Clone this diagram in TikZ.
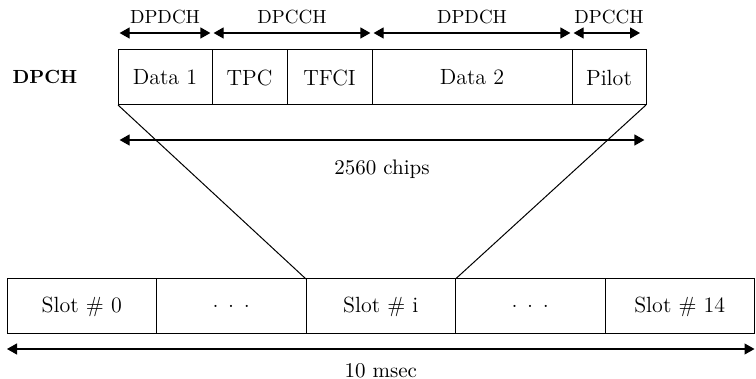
\documentclass[tikz,border=0pt]{standalone}
\usepackage{tikz}
\usetikzlibrary{arrows.meta,positioning}

\begin{document}
\begin{tikzpicture}[
  x=0.5pt, y=-0.5pt,
  cell/.style={draw, line width=0.5pt, outer sep=0pt, inner sep=0pt,
               minimum height=27.5pt, font=\fontsize{11}{13}\selectfont},
  slot/.style={cell, minimum width=74.75pt},
  dim/.style={{Triangle[length=5pt,width=5.5pt]}-{Triangle[length=5pt,width=5.5pt]},
              line width=0.6pt, shorten <=0.8pt, shorten >=0.8pt},
  lbl/.style={font=\fontsize{9.5}{11}\selectfont, inner sep=1pt}]
  \useasboundingbox (0,0) rectangle (756,379);
  % DPCH slot structure
  \node[cell, minimum width=47pt, anchor=north west] (data1) at (118,50) {Data 1};
  \node[cell, minimum width=37.5pt, right=0pt of data1] (tpc) {TPC};
  \node[cell, minimum width=42.5pt, right=0pt of tpc] (tfci) {TFCI};
  \node[cell, minimum width=100pt, right=0pt of tfci] (data2) {Data 2};
  \node[cell, minimum width=37pt, right=0pt of data2] (pilot) {Pilot};
  \node[font=\fontsize{9.5}{11}\selectfont\bfseries] (dpch) at (45,77) {DPCH};
  \draw[dim] ([yshift=8.5pt]data1.north west) -- ([yshift=8.5pt]data1.north east)
    node[lbl, midway, above=3pt] (l1) {DPDCH};
  \draw[dim] ([yshift=8.5pt]tpc.north west) -- ([yshift=8.5pt]tfci.north east)
    node[lbl, midway, above=3pt] (l2) {DPCCH};
  \draw[dim] ([yshift=8.5pt]data2.north west) -- ([yshift=8.5pt]data2.north east)
    node[lbl, midway, above=3pt] (l3) {DPDCH};
  \draw[dim, shorten >=3pt] ([yshift=8.5pt]pilot.north west) -- ([yshift=8.5pt]pilot.north east)
    node[lbl, midway, above=3pt] (l4) {DPCCH};
  \draw[dim] ([yshift=-17.5pt]data1.south west) -- ([yshift=-17.5pt]pilot.south east)
    node[lbl, midway, below=8.5pt, font=\fontsize{10.5}{12}\selectfont] (chips) {2560 chips};
  % radio frame
  \node[slot, anchor=north west] (s0) at (7,279) {Slot \# 0};
  \node[slot, right=0pt of s0] (s1) {. . .};
  \node[slot, right=0pt of s1] (si) {Slot \# i};
  \node[slot, right=0pt of si] (s2) {. . .};
  \node[slot, right=0pt of s2] (s14) {Slot \# 14};
  \draw[dim, shorten <=0pt, shorten >=0pt] ([yshift=-7.5pt]s0.south west) -- ([yshift=-7.5pt]s14.south east)
    node[lbl, midway, below=6pt, font=\fontsize{10.5}{12}\selectfont] (frame) {10 msec};
  % zoom lines
  \draw[line width=0.5pt] (data1.south west) -- (si.north west);
  \draw[line width=0.5pt] (pilot.south east) -- (si.north east);
\end{tikzpicture}
\end{document}
